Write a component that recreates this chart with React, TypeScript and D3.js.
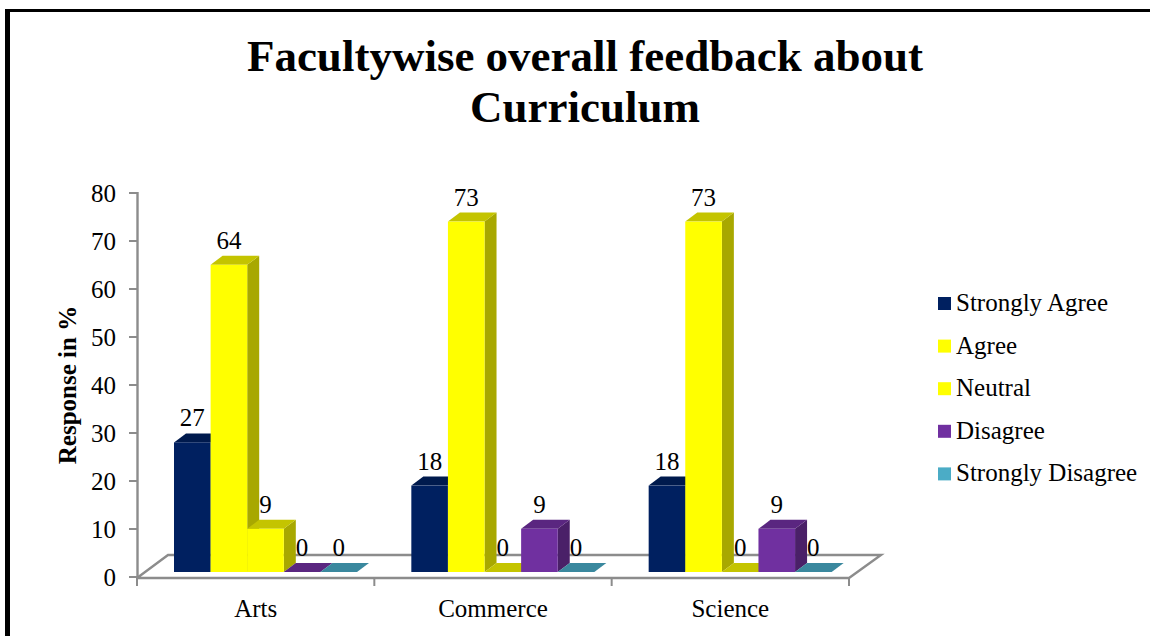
import React from "react";
import * as d3 from "d3";

const categories = ["Arts", "Commerce", "Science"];
const seriesNames = ["Strongly Agree", "Agree", "Neutral", "Disagree", "Strongly Disagree"];
const stronglyAgree = [27, 18, 18];
const agree = [64, 73, 73];
const neutral = [9, 0, 0];
const disagree = [0, 9, 9];
const stronglyDisagree = [0, 0, 0];
const seriesValues = [stronglyAgree, agree, neutral, disagree, stronglyDisagree];
const yTicks = [0, 10, 20, 30, 40, 50, 60, 70, 80];
const frontColors = ["#002060", "#ffff00", "#ffff00", "#7030a0", "#4bacc6"];
const sideColors = ["#001a4d", "#a8a800", "#a8a800", "#4a2068", "#31707f"];
const topColors = ["#001a4d", "#c4c400", "#c4c400", "#5a2680", "#3a889e"];

const FONT = "'Liberation Serif', 'Times New Roman', serif";
const DX = 12;
const DY = 9;
const FLOOR = 5;
const GREY = "#8c8c8c";

export default function App() {
  const x = d3.scaleBand<string>().domain(categories).range([137, 849]);
  const y = d3.scaleLinear().domain([0, 80]).range([577, 193]);
  const inner = d3.scaleBand<string>().domain(seriesNames).range([37, 220]);
  const w = inner.bandwidth();
  const poly = (pts: number[][]) => pts.map((p) => p.join(",")).join(" ");
  return (
    <svg width={1150} height={636} style={{ position: "absolute", left: 0, top: 0, background: "#fff" }} fontFamily={FONT}>
      <rect x={5} y={9} width={1145} height={3} fill="#000" />
      <rect x={5} y={9} width={5} height={627} fill="#000" />

      <text x={585} y={71} textAnchor="middle" fontSize={45} fontWeight="bold">Facultywise overall feedback about</text>
      <text x={585} y={122} textAnchor="middle" fontSize={45} fontWeight="bold">Curriculum</text>

      <polyline points={poly([[137, y(0) + 1], [168, 555], [881, 555], [849, y(0) + 1], [137, y(0) + 1]])} fill="none" stroke={GREY} strokeWidth={2.4} />
      <line x1={137.5} x2={137.5} y1={y(80) - 1} y2={y(0)} stroke={GREY} strokeWidth={2.4} />
      {yTicks.map((t) => (
        <g key={t}>
          <line x1={129} x2={137} y1={y(t)} y2={y(t)} stroke={GREY} strokeWidth={2} />
          <text x={116} y={y(t) + 9} textAnchor="end" fontSize={25}>{t}</text>
        </g>
      ))}
      {[...categories.map((c) => x(c) as number), 849].map((px) => (
        <line key={px} x1={px} x2={px} y1={y(0)} y2={586} stroke={GREY} strokeWidth={2} />
      ))}
      {categories.map((c) => (
        <text key={c} x={(x(c) as number) + x.bandwidth() / 2} y={617} textAnchor="middle" fontSize={25}>{c}</text>
      ))}

      <text transform="translate(76,385) rotate(-90)" textAnchor="middle" fontSize={25} fontWeight="bold">Response in %</text>

      {categories.map((c, ci) => (
        <g key={c}>
          {seriesNames.map((s, si) => {
            const v = seriesValues[si][ci];
            const x0 = (x(c) as number) + (inner(s) as number);
            const x1 = x0 + w;
            const base = y(0) - FLOOR;
            const top = y(v) - FLOOR;
            return (
              <g key={s}>
                <polygon points={poly([[x1, top], [x1 + DX, top - DY], [x1 + DX, base - DY], [x1, base]])} fill={sideColors[si]} />
                <polygon points={poly([[x0, top], [x0 + DX, top - DY], [x1 + DX, top - DY], [x1, top]])} fill={topColors[si]} />
                <rect x={x0} y={top} width={w} height={base - top} fill={frontColors[si]} />
              </g>
            );
          })}
        </g>
      ))}
      {categories.map((c, ci) =>
        seriesNames.map((s, si) => {
          const v = seriesValues[si][ci];
          const cx = (x(c) as number) + (inner(s) as number) + w / 2;
          return (
            <text key={c + s} x={cx} y={y(v) - FLOOR - 16} textAnchor="middle" fontSize={25}>{v}</text>
          );
        })
      )}

      {seriesNames.map((s, i) => {
        const ly = 297 + i * 42.6;
        return (
          <g key={s}>
            <rect x={938} y={ly} width={13} height={13} fill={frontColors[i]} />
            <text x={956} y={ly + 14} fontSize={25}>{s}</text>
          </g>
        );
      })}
    </svg>
  );
}
